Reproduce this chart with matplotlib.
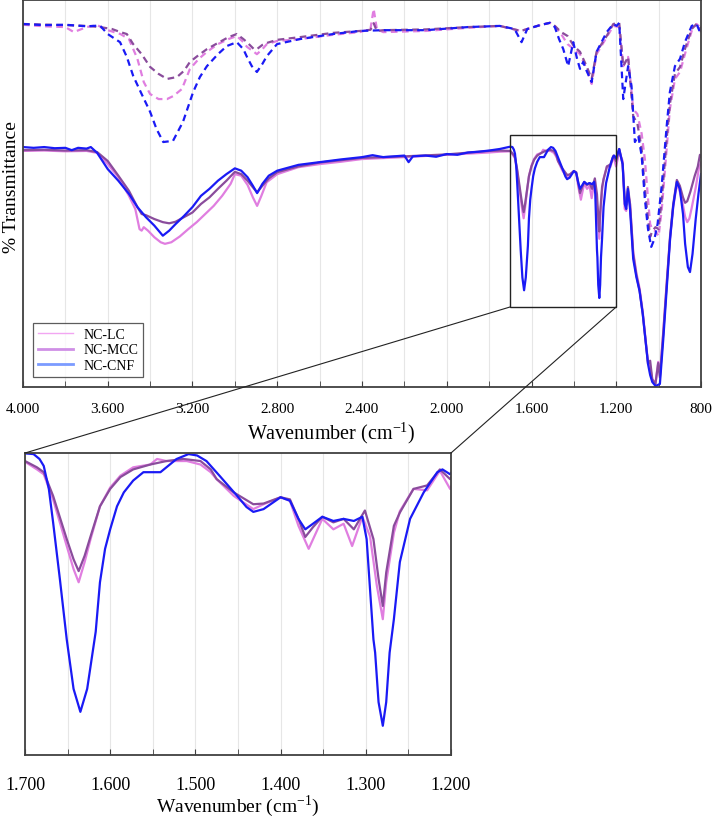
import numpy as np
import matplotlib
matplotlib.use('Agg')
import matplotlib.pyplot as plt
from matplotlib.lines import Line2D
from matplotlib.patches import Rectangle, ConnectionPatch
from matplotlib.ticker import MultipleLocator, FuncFormatter

plt.rcParams['font.family'] = ['Liberation Serif', 'DejaVu Serif']
plt.rcParams['mathtext.fontset'] = 'stix'

# ---- solid spectra (NC samples), % transmittance a.u. ----
cnf_wn_hi = [4000, 3950, 3900, 3850, 3800, 3770, 3740, 3700, 3680, 3650, 3600, 3550, 3500, 3460, 3420,
             3380, 3340, 3310, 3280, 3240, 3200, 3160, 3120, 3080, 3040, 3000, 2970, 2940, 2915, 2895,
             2870, 2840, 2800, 2700, 2600, 2500, 2400, 2350, 2300, 2250, 2200, 2180, 2160, 2100, 2050,
             2000, 1950, 1900, 1850, 1800, 1750]
cnf_t_hi = [62.0, 61.8, 62.0, 61.7, 61.8, 61.2, 61.8, 61.6, 62.0, 60.5, 56.3, 53.3, 49.9, 46.5, 43.9,
            41.7, 39.1, 40.4, 42.1, 44.2, 46.5, 49.4, 51.2, 53.3, 55.0, 56.5, 55.9, 54.2, 52.0, 50.1,
            52.5, 54.6, 55.9, 57.4, 58.1, 58.8, 59.4, 59.9, 59.4, 59.6, 59.8, 58.1, 59.6, 59.8, 59.5,
            60.2, 60.0, 60.6, 60.8, 61.1, 61.5]
cnf_wn_mid = [1700, 1690, 1683, 1678, 1672, 1667, 1659, 1651, 1643, 1635, 1627, 1617, 1612, 1606, 1600,
              1592, 1584, 1573, 1561, 1550, 1541, 1534, 1522, 1508, 1498, 1487, 1471, 1451, 1440, 1432,
              1420, 1400, 1389, 1379, 1371, 1362, 1351, 1338, 1326, 1314, 1304, 1299, 1295, 1291, 1289,
              1285, 1280, 1276, 1272, 1267, 1260, 1248, 1232, 1216, 1210, 1201]
cnf_t_mid = [62.1, 62.0, 61.3, 60.3, 57.0, 52.2, 44.0, 35.4, 28.3, 25.0, 28.3, 36.5, 43.6, 48.4, 51.2,
             54.5, 56.5, 58.2, 59.4, 59.4, 59.4, 60.1, 61.3, 62.0, 61.8, 61.0, 58.8, 56.0, 54.4, 53.7,
             54.1, 55.8, 55.3, 52.7, 51.2, 52.0, 53.0, 52.4, 52.7, 52.4, 53.0, 49.8, 42.6, 35.4, 33.5,
             26.4, 23.0, 26.4, 33.5, 38.3, 46.5, 52.7, 56.5, 59.4, 59.8, 59.1]
cnf_wn_lo = [1186, 1170, 1160, 1153, 1145, 1135, 1120, 1105, 1090, 1075, 1060, 1050, 1040, 1030, 1015,
             1005, 994, 978, 962, 946, 931, 914, 900, 885, 875, 862, 852, 840, 825, 812, 800]
cnf_t_lo = [61.5, 57.6, 47.3, 46.0, 51.2, 46.0, 33.1, 28.4, 24.8, 18.9, 11.1, 5.9, 3.1, 1.3, 0.3,
            0.5, 0.8, 12.4, 25.3, 38.2, 46.8, 53.0, 51.2, 44.7, 37.0, 31.0, 29.7, 34.4, 43.4, 49.9, 55.0]

mcc_wn_hi = [4000, 3900, 3800, 3700, 3650, 3600, 3550, 3500, 3460, 3440, 3420, 3380, 3340, 3310, 3280,
             3240, 3200, 3160, 3120, 3080, 3040, 3000, 2970, 2940, 2915, 2895, 2870, 2840, 2800, 2700,
             2600, 2500, 2400, 2200, 2000, 1800, 1750]
mcc_t_hi = [61.2, 61.3, 61.1, 61.2, 60.7, 58.4, 54.6, 50.7, 46.5, 44.7, 44.4, 43.4, 42.6, 42.3, 42.7,
            43.9, 45.1, 47.3, 49.0, 51.2, 53.3, 55.6, 55.0, 53.3, 51.6, 50.3, 52.0, 53.9, 55.5, 57.0,
            58.0, 58.6, 59.2, 59.6, 60.1, 61.0, 61.1]
mcc_wn_mid = [1700, 1686, 1678, 1667, 1651, 1643, 1637, 1630, 1623, 1612, 1600, 1588, 1573, 1553, 1534,
              1514, 1494, 1482, 1475, 1455, 1432, 1420, 1400, 1389, 1379, 1371, 1362, 1351, 1338, 1326,
              1314, 1301, 1291, 1285, 1280, 1276, 1267, 1260, 1244, 1228, 1213, 1201]
mcc_t_mid = [61.0, 60.1, 59.4, 56.0, 49.8, 46.9, 45.2, 47.4, 50.2, 54.5, 57.0, 58.7, 59.8, 60.5, 61.0,
             61.3, 61.0, 59.8, 58.4, 56.5, 54.8, 54.9, 55.8, 55.5, 52.7, 50.1, 51.5, 53.0, 52.2, 52.7,
             51.2, 53.9, 49.8, 44.1, 40.2, 45.0, 51.7, 53.6, 57.0, 57.5, 59.8, 58.4]
mcc_wn_lo = [1186, 1170, 1160, 1153, 1145, 1135, 1120, 1105, 1090, 1075, 1060, 1050, 1040, 1030, 1015,
             1002, 994, 978, 962, 946, 931, 914, 900, 885, 875, 865, 850, 830, 815, 805, 800]
mcc_t_lo = [61.5, 57.6, 48.6, 47.0, 51.7, 47.3, 34.4, 28.9, 25.0, 18.9, 11.1, 6.0, 6.8, 2.0, 0.8,
            6.2, 2.5, 14.0, 26.5, 39.0, 47.3, 53.5, 52.0, 49.0, 47.6, 48.0, 50.5, 54.5, 57.0, 60.0, 59.5]

lc_wn_hi = [4000, 3900, 3800, 3700, 3650, 3600, 3550, 3500, 3470, 3450, 3440, 3430, 3410, 3380, 3350,
            3330, 3300, 3260, 3220, 3180, 3140, 3100, 3060, 3020, 3000, 2970, 2940, 2915, 2895, 2875,
            2850, 2800, 2700, 2600, 2500, 2400, 2200, 2000, 1800, 1750]
lc_t_hi = [61.0, 61.1, 60.9, 61.0, 60.5, 57.6, 54.2, 49.4, 46.0, 40.8, 40.4, 41.3, 40.4, 38.7, 37.4,
           37.0, 37.4, 38.9, 40.8, 42.6, 44.7, 46.8, 49.4, 52.5, 55.0, 54.6, 52.2, 49.0, 46.8, 49.4,
           52.9, 55.0, 56.8, 57.6, 58.2, 58.9, 59.4, 60.0, 60.6, 60.8]
lc_wn_mid = [1700, 1686, 1678, 1667, 1651, 1643, 1637, 1630, 1623, 1612, 1600, 1588, 1573, 1553, 1545,
             1534, 1510, 1494, 1482, 1475, 1455, 1432, 1420, 1400, 1389, 1379, 1367, 1351, 1338, 1326,
             1316, 1304, 1295, 1287, 1280, 1276, 1267, 1260, 1244, 1228, 1213, 1201]
lc_t_mid = [60.9, 59.8, 59.1, 55.5, 48.8, 45.5, 43.6, 46.5, 49.8, 54.5, 57.2, 58.9, 60.1, 60.5, 61.3,
            61.0, 61.0, 60.5, 59.4, 58.4, 56.0, 54.1, 54.8, 55.8, 55.3, 51.7, 48.4, 52.7, 51.2, 52.0,
            48.8, 53.0, 50.2, 43.1, 38.3, 43.6, 50.7, 53.8, 57.0, 56.8, 59.6, 57.0]
lc_wn_lo = [1186, 1170, 1160, 1153, 1145, 1135, 1120, 1105, 1090, 1075, 1060, 1050, 1040, 1030, 1015,
            1002, 994, 978, 962, 946, 931, 914, 900, 885, 875, 865, 855, 845, 825, 810, 800]
lc_t_lo = [60.7, 58.4, 46.0, 45.5, 50.6, 47.3, 35.0, 29.5, 25.5, 19.5, 11.5, 6.5, 5.0, 2.0, 1.0,
           6.5, 3.0, 14.5, 27.0, 38.5, 46.5, 52.5, 50.5, 47.0, 44.0, 42.6, 43.5, 46.0, 51.5, 56.5, 58.0]

# ---- dashed spectra (starting materials) ----
cnf0_wn = [4000, 3900, 3800, 3700, 3637, 3600, 3542, 3510, 3480, 3440, 3400, 3370, 3338, 3292, 3245,
           3197, 3165, 3132, 3080, 3038, 2991, 2960, 2943, 2920, 2896, 2870, 2849, 2801, 2693, 2537,
           2410, 2300, 2100, 1900, 1750, 1680, 1647, 1620, 1560, 1513, 1490, 1470, 1450, 1427, 1403,
           1385, 1371, 1356, 1340, 1316, 1293, 1245, 1214, 1198, 1186, 1167, 1144, 1128, 1112, 1096,
           1080, 1065, 1050, 1035, 1020, 1005, 986, 962, 947, 923, 899, 876, 844, 821, 805, 800]
cnf0_t = [93.8, 93.5, 93.6, 93.2, 93.4, 91.2, 89.1, 85.3, 80.4, 75.7, 71.1, 66.7, 63.3, 63.6, 68.5,
          76.2, 80.1, 82.9, 86.0, 88.1, 89.1, 87.3, 85.3, 82.9, 81.4, 83.5, 85.5, 88.6, 89.9, 91.2,
          92.0, 92.2, 92.2, 93.0, 93.3, 92.5, 89.1, 92.5, 93.5, 94.1, 93.0, 89.9, 87.3, 82.9, 89.1,
          84.8, 82.2, 84.0, 81.7, 78.8, 86.6, 91.7, 93.8, 93.3, 94.1, 74.4, 82.9, 77.8, 63.3, 64.9,
          59.7, 48.6, 40.8, 36.2, 38.2, 42.1, 51.7, 67.4, 76.2, 82.9, 84.8, 89.1, 93.3, 93.8, 91.7, 91.2]

mcc0_wn = [4000, 3800, 3700, 3637, 3580, 3540, 3510, 3480, 3440, 3400, 3360, 3320, 3273, 3240, 3212,
           3170, 3132, 3080, 3030, 2991, 2960, 2943, 2910, 2896, 2870, 2849, 2801, 2693, 2537, 2410,
           2360, 2345, 2330, 2300, 2100, 1900, 1750, 1650, 1560, 1513, 1490, 1460, 1430, 1400, 1371,
           1340, 1316, 1293, 1245, 1214, 1186, 1167, 1144, 1120, 1100, 1080, 1065, 1050, 1040, 1030,
           1015, 1000, 985, 962, 947, 923, 899, 876, 844, 821, 805, 800]
mcc0_t = [93.8, 93.5, 93.3, 93.0, 92.5, 91.7, 91.2, 88.6, 86.0, 82.7, 80.9, 79.6, 80.1, 81.7, 84.0,
          85.8, 87.3, 88.9, 90.4, 91.2, 89.9, 89.1, 87.3, 87.3, 88.4, 88.9, 89.7, 90.4, 91.5, 92.0,
          92.3, 94.0, 92.0, 92.2, 92.4, 93.0, 93.3, 92.0, 93.5, 94.1, 93.3, 91.7, 90.7, 88.1, 86.6,
          82.9, 79.6, 86.6, 90.7, 93.8, 94.1, 82.9, 85.3, 70.0, 68.0, 61.5, 51.2, 43.4, 38.8, 40.3,
          41.3, 40.8, 48.6, 64.1, 73.1, 80.9, 82.7, 87.3, 92.5, 93.8, 93.0, 91.7]

lc0_wn = [4000, 3900, 3800, 3760, 3700, 3650, 3600, 3540, 3500, 3460, 3430, 3400, 3360, 3320, 3290,
          3250, 3212, 3170, 3132, 3080, 3030, 2991, 2960, 2943, 2910, 2896, 2870, 2849, 2801, 2693,
          2537, 2410, 2360, 2345, 2330, 2300, 2100, 1900, 1750, 1650, 1560, 1513, 1490, 1460, 1430,
          1400, 1371, 1340, 1316, 1293, 1245, 1214, 1186, 1167, 1144, 1120, 1100, 1080, 1065, 1050,
          1040, 1030, 1015, 1000, 985, 962, 947, 923, 899, 876, 844, 821, 805, 800]
lc0_t = [93.6, 93.2, 93.0, 91.7, 93.0, 93.5, 92.2, 91.2, 89.9, 84.8, 78.8, 75.7, 74.4, 74.4, 75.2,
         77.0, 82.2, 84.8, 86.6, 88.6, 89.9, 90.7, 89.1, 87.9, 86.6, 86.0, 87.3, 88.6, 89.4, 89.9,
         91.0, 91.7, 92.5, 97.7, 92.5, 91.7, 92.0, 92.8, 93.3, 92.0, 93.5, 94.1, 93.3, 91.2, 88.6,
         87.3, 86.0, 82.2, 78.3, 86.0, 90.4, 93.3, 93.0, 82.9, 85.3, 71.8, 70.5, 65.4, 58.9, 48.6,
         42.1, 40.8, 40.3, 39.0, 46.0, 61.5, 71.8, 79.6, 81.4, 86.0, 92.0, 93.8, 93.0, 91.7]

labels = ['NC-LC', 'NC-MCC', 'NC-CNF']
colors = ['#e07ee0', '#8a4c9c', '#1a1af5']
legend_colors = ['#f2a6f2', '#cf8fe6', '#7b9bff']

lc_wn = lc_wn_hi + lc_wn_mid + lc_wn_lo
lc_t = lc_t_hi + lc_t_mid + lc_t_lo
mcc_wn = mcc_wn_hi + mcc_wn_mid + mcc_wn_lo
mcc_t = mcc_t_hi + mcc_t_mid + mcc_t_lo
cnf_wn = cnf_wn_hi + cnf_wn_mid + cnf_wn_lo
cnf_t = cnf_t_hi + cnf_t_mid + cnf_t_lo

solid = [(lc_wn, lc_t), (mcc_wn, mcc_t), (cnf_wn, cnf_t)]
dashed = [(lc0_wn, lc0_t), (mcc0_wn, mcc0_t), (cnf0_wn, cnf0_t)]

fig = plt.figure(figsize=(7.14, 8.2), dpi=100)
ax1 = fig.add_axes([0.0322, 0.5268, 0.9496, 0.472])
ax2 = fig.add_axes([0.035, 0.078, 0.5966, 0.3683])

thousands = FuncFormatter(lambda v, p: '{:,.0f}'.format(v).replace(',', '.'))
frame_col = '#404040'
xlab = 'Wavenumber (cm$^{\\mathregular{-1}}$)'

for (wn, t), c in zip(dashed, colors):
    ax1.plot(wn, t, color=c, lw=1.6, ls=(0, (3, 2)))

for ax in (ax1, ax2):
    for (wn, t), c in zip(solid, colors):
        ax.plot(wn, t, color=c, lw=1.6)
    ax.set_yticks([])
    ax.xaxis.set_major_formatter(thousands)
    ax.grid(axis='x', which='both', color='#e6e6e6', lw=0.8)
    ax.set_axisbelow(True)
    for s in ax.spines.values():
        s.set_color(frame_col)
        s.set_linewidth(1.3)

ax1.set_xlim(4000, 800)
ax1.set_ylim(0, 100)
ax1.xaxis.set_major_locator(MultipleLocator(400))
ax1.xaxis.set_minor_locator(MultipleLocator(200))
ax1.tick_params(axis='x', which='both', direction='in', length=4, color=frame_col,
                labelsize=11, pad=11)
ax1.set_xlabel(xlab, fontsize=14.5, labelpad=3, x=0.455)
ax1.set_ylabel('% Transmittance', fontsize=14, labelpad=2, y=0.52)

ax2.set_xlim(1700, 1200)
ax2.set_ylim(18.8, 62.15)
ax2.xaxis.set_major_locator(MultipleLocator(100))
ax2.xaxis.set_minor_locator(MultipleLocator(50))
ax2.tick_params(axis='x', which='both', direction='in', length=4, color=frame_col,
                labelsize=13, pad=15)
ax2.set_xlabel(xlab, fontsize=14, labelpad=0)

handles = [Line2D([], [], color=c, lw=w) for c, w in zip(legend_colors, [1.0, 2.0, 2.0])]
leg = ax1.legend(handles, labels, loc='lower left', bbox_to_anchor=(0.0147, 0.0258),
                 borderaxespad=0, fontsize=10, frameon=True, fancybox=False,
                 edgecolor='#333333', handlelength=2.5, borderpad=0.35, labelspacing=0.2,
                 handletextpad=0.8)
leg.get_frame().set_linewidth(0.9)

# zoom box and connector lines
box_y = (20.7, 65.1)
ax1.add_patch(Rectangle((1700, box_y[0]), -500, box_y[1] - box_y[0], fill=False,
                        ec='#222222', lw=1.0, zorder=5))
for xa, xb in [(1700, 0), (1200, 1)]:
    con = ConnectionPatch(xyA=(xa, box_y[0]), coordsA=ax1.transData,
                          xyB=(xb, 1), coordsB=ax2.transAxes, color='#222222', lw=0.8)
    fig.add_artist(con)

fig.savefig('out.png', dpi=100)
